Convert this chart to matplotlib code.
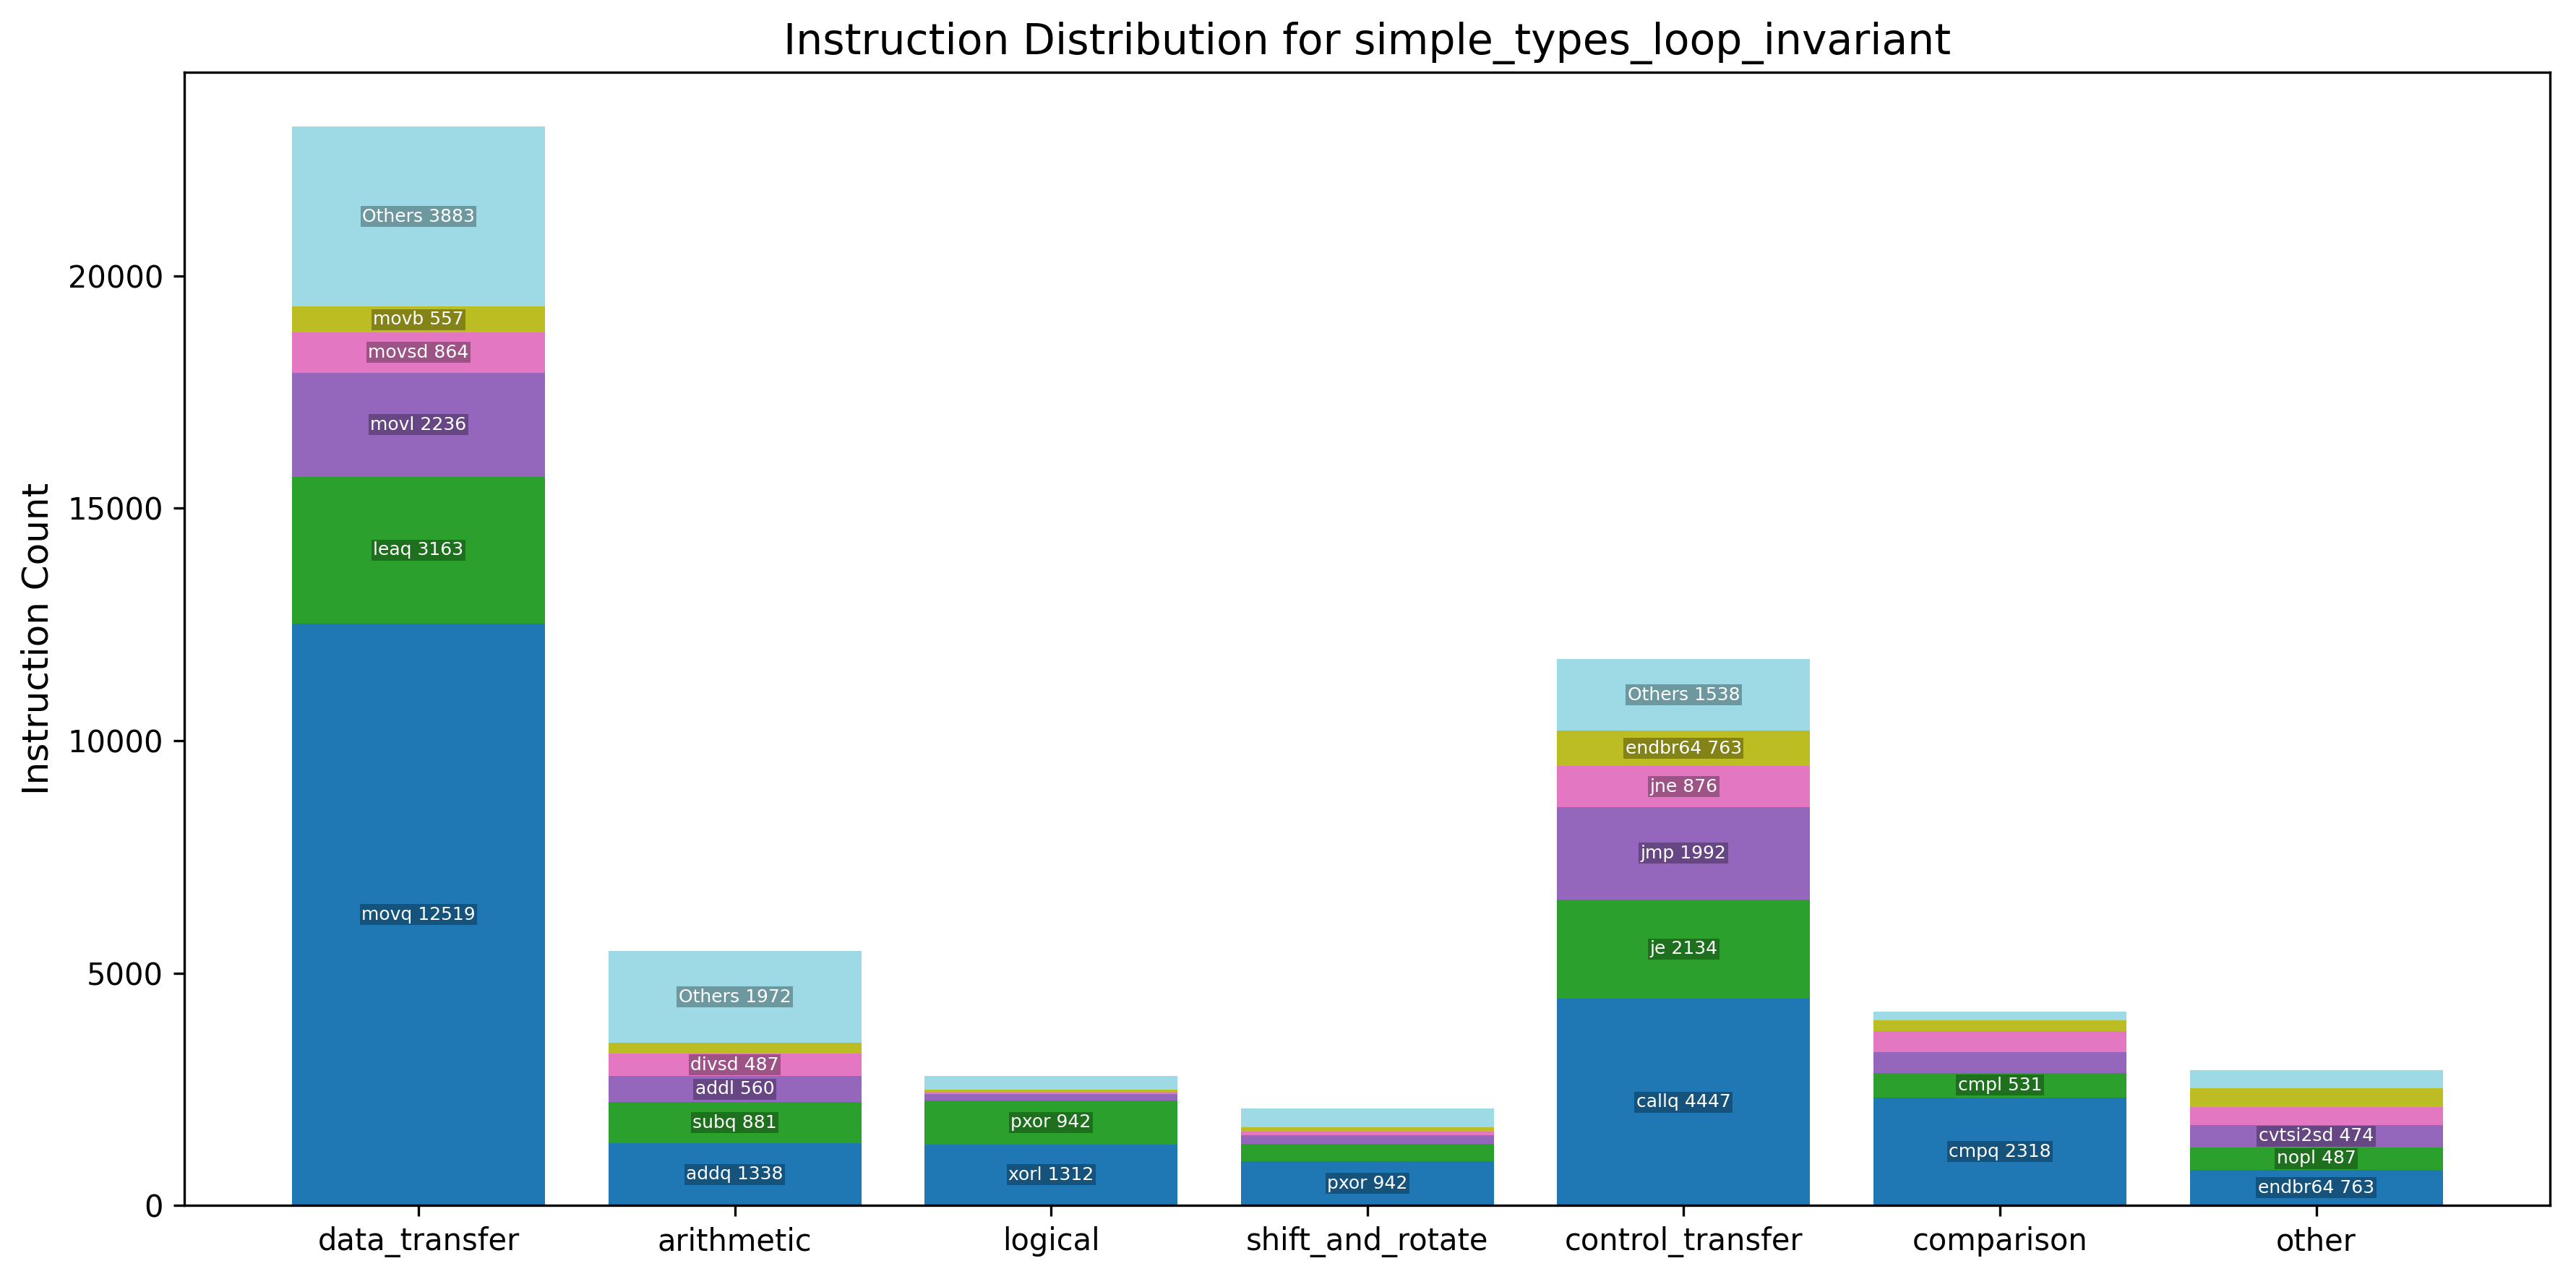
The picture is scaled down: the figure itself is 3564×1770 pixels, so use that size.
import numpy as np
import matplotlib
matplotlib.use("Agg")
import matplotlib.pyplot as plt

# categories and per-category top instructions (bottom -> top), last one is "Others"
categories = ["data_transfer", "arithmetic", "logical", "shift_and_rotate",
              "control_transfer", "comparison", "other"]

names = [
    ["movq", "leaq", "movl", "movsd", "movb", "Others"],
    ["addq", "subq", "addl", "divsd", "mulsd", "Others"],
    ["xorl", "pxor", "andl", "orl", "andq", "Others"],
    ["pxor", "shlq", "sarq", "shrq", "sall", "Others"],
    ["callq", "je", "jmp", "jne", "endbr64", "Others"],
    ["cmpq", "cmpl", "testq", "testl", "ucomisd", "Others"],
    ["endbr64", "nopl", "cvtsi2sd", "cvttsd2si", "cqto", "Others"],
]

counts = [
    [12519, 3163, 2236, 864, 557, 3883],
    [1338, 881, 560, 487, 233, 1972],
    [1312, 942, 145, 42, 47, 295],
    [942, 373, 191, 88, 93, 404],
    [4447, 2134, 1992, 876, 763, 1538],
    [2318, 531, 454, 449, 224, 188],
    [763, 487, 474, 395, 395, 395],
]

counts = np.array(counts)
colors = plt.cm.tab20(np.linspace(0, 1, 6))

fig, ax = plt.subplots(figsize=(11.88, 5.9), dpi=300)
fig.subplots_adjust(left=0.0716, right=0.990, top=0.9435, bottom=0.0576)

x = np.arange(len(categories))
bottom = np.zeros(len(categories))
threshold = 0.02 * counts.sum(axis=1).max()

for level in range(counts.shape[1]):
    vals = counts[:, level]
    ax.bar(x, vals, bottom=bottom, color=colors[level], width=0.8)
    for i, v in enumerate(vals):
        if v > threshold:
            ax.text(x[i], bottom[i] + v / 2, f"{names[i][level]} {v}",
                    ha="center", va="center", fontsize=6, color="white",
                    bbox=dict(facecolor="black", alpha=0.3, edgecolor="none",
                              boxstyle="square,pad=0.1"))
    bottom += vals

ax.set_xticks(x)
ax.set_xticklabels(categories, fontsize=10)
ax.tick_params(axis="y", labelsize=10)
ax.set_ylabel("Instruction Count", fontsize=12)
ax.set_title("Instruction Distribution for simple_types_loop_invariant", fontsize=14)

fig.savefig("out.png", dpi=300)
